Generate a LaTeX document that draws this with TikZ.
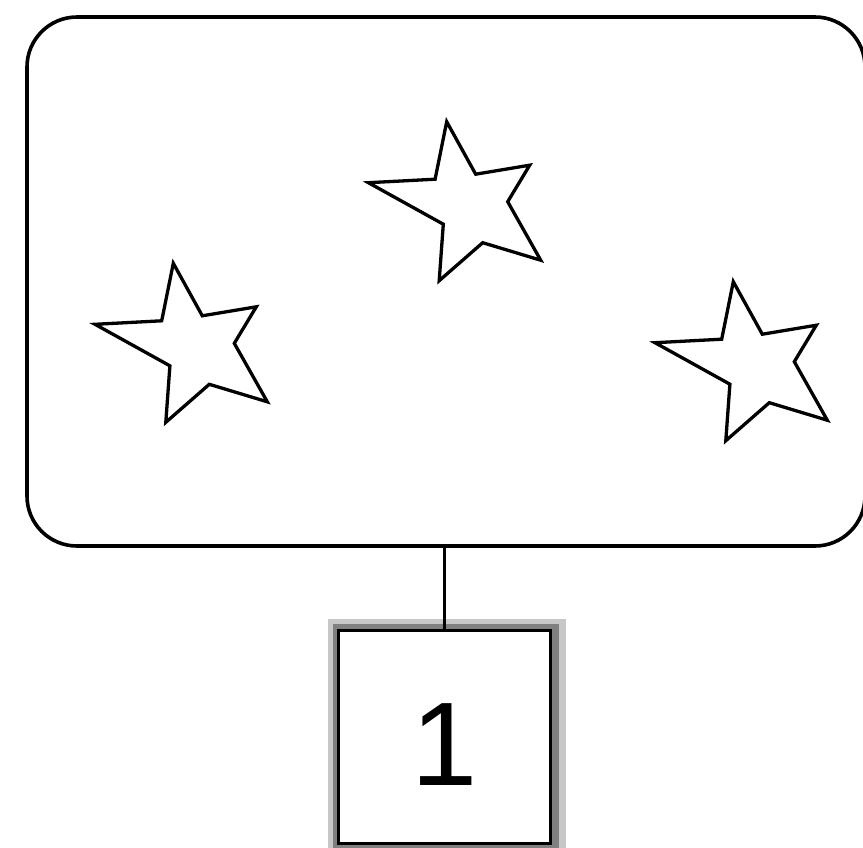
\documentclass[tikz,border=0pt]{standalone}
\usepackage{fontspec}
\setmainfont{Liberation Sans}
\begin{document}
\begin{tikzpicture}[x=1pt,y=1pt,
  frame/.style={draw=black, line width=3.6pt, rounded corners=50pt, fill=white},
  starline/.style={draw=black, line width=3.3pt, line join=miter},
  numbox/.style={draw=black, line width=3.8pt, minimum width=212pt, minimum height=213pt,
    inner sep=0pt, text height=97pt, text depth=0pt, font=\fontsize{119}{119}\selectfont},
  halo/.style={draw=black!22, line width=26pt},
  halo2/.style={draw=black!50, line width=14pt},
  link/.style={draw=black, line width=2.8pt},
  mystar/.pic={
    \draw[starline] (0,0) -- (29,-52.5) -- (83,-43.5) -- (61,-80) -- (94,-138.5)
      -- (36,-121) -- (-7.5,-159) -- (-3.4,-102.5) -- (-78.3,-61) -- (-11.6,-57.5) -- cycle;
  }]
\useasboundingbox (0,0) rectangle (863,-847);
\fill[white] (0,0) rectangle (863,-847);
% main rounded frame
\node[frame, minimum width=838pt, minimum height=529pt, inner sep=0pt] (box) at (446,-281.5) {};
% stars
\pic at (173.3,-263.3) {mystar};
\pic at (446.7,-121.7) {mystar};
\pic at (733.3,-281.7) {mystar};
% numbered square with blurred halo
\draw[halo] (341,-632) rectangle (553,-846);
\draw[halo2] (340,-631) rectangle (552,-845);
\node[numbox, fill=white] (sq) at (444.5,-737) {1};
% connector
\draw[link] (sq.north) -- (sq.north |- box.south);
\end{tikzpicture}
\end{document}
